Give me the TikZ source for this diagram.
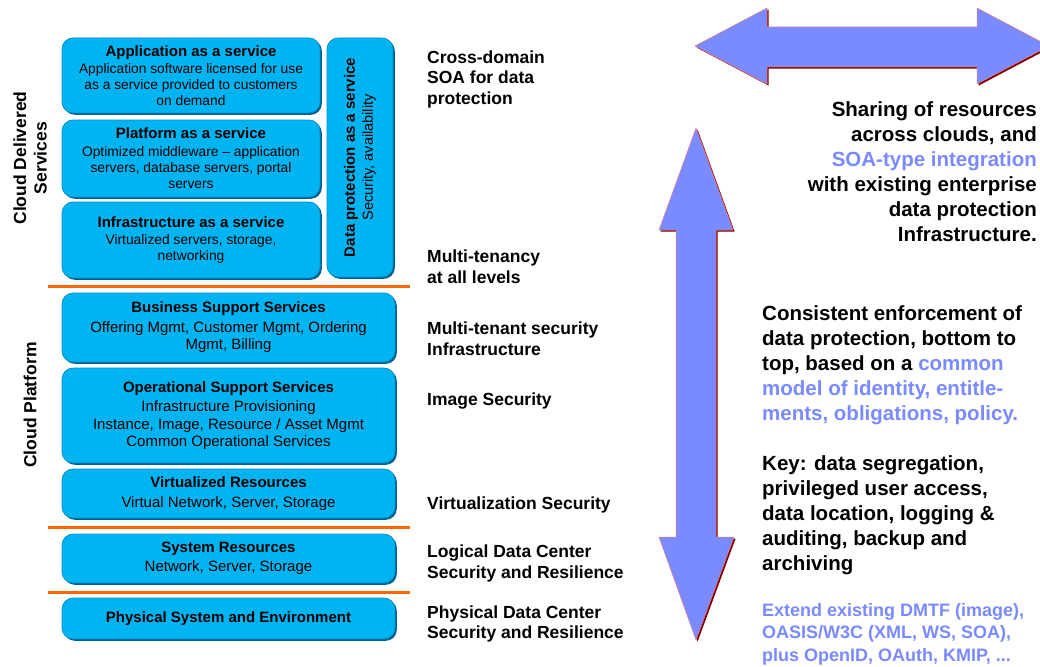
\documentclass[tikz,border=0pt]{standalone}
\usepackage{fontspec}
\setmainfont{Liberation Sans}
\usetikzlibrary{shadows}

\definecolor{boxfill}{RGB}{0,180,242}
\definecolor{boxrim}{RGB}{0,140,200}
\definecolor{boxedge}{RGB}{0,96,144}
\definecolor{rulecol}{RGB}{255,102,0}
\definecolor{arrowblue}{RGB}{122,138,255}
\definecolor{arrowshade}{RGB}{128,0,0}
\definecolor{arrowrim}{RGB}{235,125,135}

\newcommand\layertitle[1]{{\fontsize{15}{17}\selectfont\bfseries #1}}

\begin{document}
\begin{tikzpicture}[x=1pt,y=-1pt,
  layer/.style={draw=boxrim, line width=0.7pt, fill=boxfill, rounded corners=11pt,
    drop shadow={shadow xshift=1.8pt, shadow yshift=-1.8pt, fill=boxedge, opacity=1},
    align=center, inner sep=0pt, text=black},
  upper/.style={layer, font=\fontsize{13.8}{16}\selectfont},
  lower/.style={layer, font=\fontsize{15}{17.5}\selectfont},
  sidelabel/.style={rotate=90, align=center, inner sep=0pt,
    font=\fontsize{17.5}{20.5}\selectfont\bfseries},
  midlabel/.style={anchor=west, align=left, inner sep=0pt,
    font=\fontsize{17.5}{20.5}\selectfont\bfseries},
  note/.style={align=left, inner sep=0pt, font=\fontsize{20.5}{25}\selectfont\bfseries},
  divider/.style={draw=rulecol, line width=3pt},
  bigarrow/.style={fill=arrowblue, draw=arrowrim, line width=0.5pt},
  arrowback/.style={fill=arrowshade}
]
\useasboundingbox (0,0) rectangle (1040,666);
\fill[white] (0,0) rectangle (1040,666);

% ---------- layered stack ----------
\node[upper, minimum width=258pt, minimum height=75pt] (app) at (191,75.5)
  {\layertitle{Application as a service}\\[1pt]
   Application software licensed for use\\
   as a service provided to customers\\
   on demand};
\node[upper, minimum width=258pt, minimum height=77pt] (plat) at (191,158.5)
  {\layertitle{Platform as a service}\\[2pt]
   Optimized middleware -- application\\
   servers, database servers, portal\\
   servers};
\node[upper, minimum width=258pt, minimum height=76pt] (infra) at (191,240)
  {\layertitle{Infrastructure as a service}\\[1pt]
   Virtualized servers, storage,\\
   networking};
\node[upper, minimum width=66pt, minimum height=239pt] (dpaas) at (360,157.5) {};
\node[rotate=90, align=center, inner sep=0pt, font=\fontsize{14.5}{18}\selectfont]
  (dpaastext) at (dpaas.center)
  {\layertitle{Data protection as a service}\\ Security, availability};

\node[lower, minimum width=333pt, minimum height=69pt] (bss) at (228.5,327.5)
  {\layertitle{Business Support Services}\\[2pt]
   Offering Mgmt, Customer Mgmt, Ordering\\
   Mgmt, Billing};
\node[lower, minimum width=333pt, minimum height=95pt] (oss) at (228.5,415.5)
  {\layertitle{Operational Support Services}\\[2pt]
   Infrastructure Provisioning\\
   Instance, Image, Resource / Asset Mgmt\\
   Common Operational Services};
\node[lower, minimum width=333pt, minimum height=49pt] (virt) at (228.5,493.5)
  {\layertitle{Virtualized Resources}\\[2pt]
   Virtual Network, Server, Storage};
\node[lower, minimum width=333pt, minimum height=49pt] (sysr) at (228.5,558.5)
  {\layertitle{System Resources}\\[1pt]
   Network, Server, Storage};
\node[lower, minimum width=333pt, minimum height=41pt] (phys) at (228.5,618.5)
  {\layertitle{Physical System and Environment}};

% ---------- separators ----------
\coordinate (r1a) at (48,286);  \coordinate (r1b) at (410,286);
\coordinate (r2a) at (48,527);  \coordinate (r2b) at (410,527);
\coordinate (r3a) at (48,592);  \coordinate (r3b) at (410,592);
\draw[divider] (r1a) -- (r1b);
\draw[divider] (r2a) -- (r2b);
\draw[divider] (r3a) -- (r3b);

% ---------- group labels ----------
\node[sidelabel] (cds) at (30,158) {Cloud Delivered\\Services};
\node[sidelabel] (cp) at (30,405) {Cloud Platform};

% ---------- security concerns per layer ----------
\node[midlabel] (lcross) at (427,79) {Cross-domain\\SOA for data\\protection};
\node[midlabel] (ltenancy) at (427,266.5) {Multi-tenancy\\at all levels};
\node[midlabel] (ltenant) at (427,338.5) {Multi-tenant security\\Infrastructure};
\node[midlabel] (limage) at (427,401.5) {Image Security};
\node[midlabel] (lvirt) at (427,504.5) {Virtualization Security};
\node[midlabel] (llogical) at (427,563.5) {Logical Data Center\\Security and Resilience};
\node[midlabel] (lphysical) at (427,624) {Physical Data Center\\Security and Resilience};

% ---------- block arrows ----------
\begin{scope}
\clip (0,0) rectangle (1040,666);
\foreach \sty/\dx in {arrowback/1.6, bigarrow/0} {
  \path[\sty, shift={(\dx,\dx)}]
    (695,46) -- (767,8) -- (767,27) -- (977,27) -- (977,8) -- (1049,46)
    -- (977,84) -- (977,67) -- (767,67) -- (767,84) -- cycle;
  \path[\sty, shift={(\dx,\dx)}]
    (696,128) -- (733,230) -- (716,230) -- (716,537) -- (734,537) -- (696,640)
    -- (659,537) -- (676,537) -- (676,230) -- (659,230) -- cycle;
}
\end{scope}

% ---------- notes ----------
\node[note, anchor=east, align=right] (nshare) at (1037,172)
  {Sharing of resources\\
   across clouds, and\\
   \textcolor{arrowblue}{SOA-type integration}\\
   with existing enterprise\\
   data protection\\
   Infrastructure.};
\node[note, anchor=west] (nconsist) at (762,365)
  {Consistent enforcement of\\
   data protection, bottom to\\
   top, based on a \textcolor{arrowblue}{common}\\
   \textcolor{arrowblue}{model of identity, entitle-}\\
   \textcolor{arrowblue}{ments, obligations, policy.}};
\node[note, anchor=west] (nkey) at (762,515)
  {Key: data segregation,\\
   privileged user access,\\
   data location, logging \&\\
   auditing, backup and\\
   archiving};
\node[anchor=west, align=left, inner sep=0pt, text=arrowblue,
      font=\fontsize{18}{22.5}\selectfont\bfseries] (nstd) at (762,634)
  {Extend existing DMTF (image),\\
   OASIS/W3C (XML, WS, SOA),\\
   plus OpenID, OAuth, KMIP, ...};
\end{tikzpicture}
\end{document}
